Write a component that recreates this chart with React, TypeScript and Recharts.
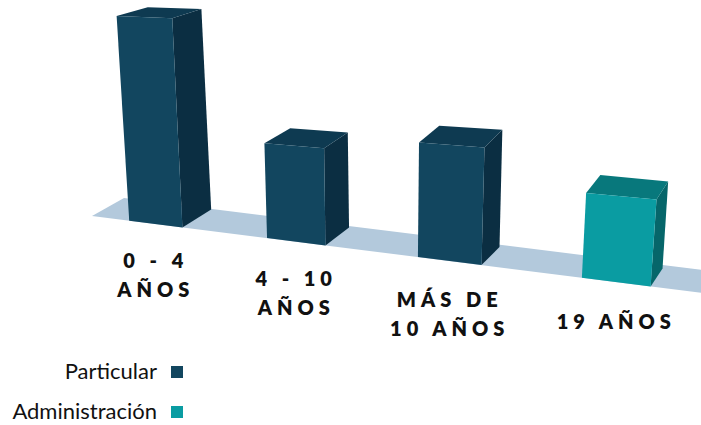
import { BarChart, Bar, XAxis, YAxis, Customized } from 'recharts';

const categories = ['0 - 4\nAÑOS', '4 - 10\nAÑOS', 'MÁS DE\n10 AÑOS', '19 AÑOS'];
const particular = [41, 19, 23, null];
const administracion = [null, null, null, 17];
const seriesNames = ['Particular', 'Administración'];

const data = categories.map((name, i) => ({
  name,
  particular: particular[i],
  administracion: administracion[i],
}));

const DARK = { front: '#12465f', top: '#0e3a51', side: '#0b2e42' };
const TEAL = { front: '#0a9ca2', top: '#08787c', side: '#06666a' };
const FLOOR = '#b3c9dc';

// fake perspective helpers
const warp = (u: number) => u - 2.77e-4 * (u - 156) * (616 - u);
const floorY = (x: number) => 216 + 0.126 * (x - 92);
const clamp = (v: number, a: number, b: number) => Math.max(a, Math.min(b, v));
const lift = (xb: number, h: number, xc: number) => {
  const hh = h * (1 + 0.0004 * (xb - xc));
  return [xb + ((xb - 380) * hh) / (4300 - floorY(xb)), floorY(xb) - hh];
};
const depth = (x: number, h: number) => [
  32 - 0.036 * (x - 92),
  -18 + h * 0.045 * clamp((500 - x) / 350, 0, 1),
];
const pts = (list: number[][]) => list.map((p) => `${p[0]},${p[1]}`).join(' ');

function Box3D(props: any) {
  const { x, width, height, colors } = props;
  if (!height || !isFinite(height) || height <= 0) return null;
  const xl = warp(x);
  const xr = warp(x + width);
  const xc = (xl + xr) / 2;
  const fbl = [xl, floorY(xl)];
  const fbr = [xr, floorY(xr)];
  const ftl = lift(xl, height, xc);
  const ftr = lift(xr, height, xc);
  const dtl = depth(ftl[0], height);
  const dtr = depth(ftr[0], height);
  const dbr = depth(fbr[0], 0);
  const btl = [ftl[0] + dtl[0], ftl[1] + dtl[1]];
  const btr = [ftr[0] + dtr[0], ftr[1] + dtr[1]];
  const bbr = [fbr[0] + dbr[0], fbr[1] + dbr[1]];
  return (
    <g>
      <polygon points={pts([ftr, btr, bbr, fbr])} fill={colors.side} />
      <polygon points={pts([ftl, btl, btr, ftr])} fill={colors.top} />
      <polygon points={pts([ftl, ftr, fbr, fbl])} fill={colors.front} />
    </g>
  );
}

function Floor() {
  const x0 = 92;
  const x1 = 760;
  const d0 = depth(x0, 0);
  const d1 = depth(x1, 0);
  return (
    <polygon
      points={pts([
        [x0, floorY(x0)],
        [x0 + d0[0], floorY(x0) + d0[1]],
        [x1 + d1[0], floorY(x1) + d1[1] - 4],
        [x1, floorY(x1)],
      ])}
      fill={FLOOR}
    />
  );
}

function Tick(props: any) {
  const { x, payload } = props;
  const xs = warp(x);
  const lines = String(payload.value).split('\n');
  const y0 = floorY(xs) + 36.5 + 0.006 * (xs - 154) + 7.3;
  return (
    <text
      textAnchor="middle"
      fill="#111"
      fontSize={20}
      fontWeight={800}
      fontFamily="Lato, 'Open Sans', sans-serif"
      letterSpacing={5}
    >
      {lines.map((l, i) => (
        <tspan key={i} x={xs} y={y0 + i * 29}>
          {l}
        </tspan>
      ))}
    </text>
  );
}

export default function App() {
  const legend = [
    { name: seriesNames[0], color: DARK.front, top: 358 },
    { name: seriesNames[1], color: TEAL.front, top: 398 },
  ];
  return (
    <div
      style={{
        position: 'absolute',
        left: 0,
        top: 0,
        width: 701,
        height: 425,
        background: '#fff',
        fontFamily: "Lato, 'Open Sans', sans-serif",
      }}
    >
      <BarChart
        width={701}
        height={425}
        data={data}
        margin={{ top: 10, right: 8, bottom: 178, left: 79 }}
      >
        <Customized component={Floor} />
        <XAxis
          dataKey="name"
          height={30}
          axisLine={false}
          tickLine={false}
          interval={0}
          tick={<Tick />}
        />
        <YAxis hide domain={[0, 41]} />
        <Bar
          dataKey="particular"
          name={seriesNames[0]}
          stackId="a"
          barSize={61}
          fill={DARK.front}
          isAnimationActive={false}
          shape={(p: any) => <Box3D {...p} colors={DARK} />}
        />
        <Bar
          dataKey="administracion"
          name={seriesNames[1]}
          stackId="a"
          barSize={61}
          fill={TEAL.front}
          isAnimationActive={false}
          shape={(p: any) => <Box3D {...p} colors={TEAL} />}
        />
      </BarChart>

      {legend.map((item) => (
        <div key={item.name}>
          <div
            style={{
              position: 'absolute',
              left: 0,
              width: 157,
              top: item.top,
              textAlign: 'right',
              fontSize: 22,
              lineHeight: '26px',
              color: '#111',
            }}
          >
            {item.name}
          </div>
          <div
            style={{
              position: 'absolute',
              left: 171,
              top: item.top + 8,
              width: 12,
              height: 12,
              background: item.color,
            }}
          />
        </div>
      ))}
    </div>
  );
}
